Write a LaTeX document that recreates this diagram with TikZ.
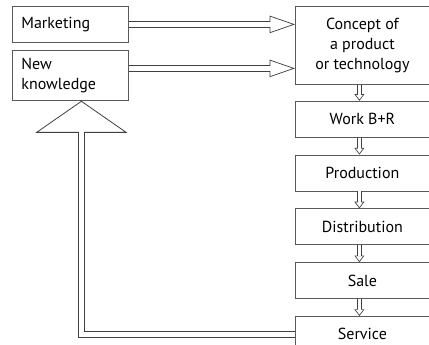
\documentclass[tikz,border=0pt]{standalone}
\usepackage{fontspec}
\setmainfont{PT Sans}
\usetikzlibrary{arrows.meta,positioning}

\begin{document}
\begin{tikzpicture}[
    x=0.75pt, y=-0.75pt,
    node distance=12.75pt,
    every node/.style={font=\fontsize{12}{15}\selectfont},
    leftbox/.style={
        draw=black!65, line width=0.6pt, anchor=north west,
        text width=73.5pt, inner xsep=6.75pt, minimum height=27pt,
        align=left
    },
    stepbox/.style={
        draw=black!65, line width=0.6pt, minimum width=100.5pt,
        minimum height=27pt, inner sep=0pt
    },
    wide/.style={
        double=white, double distance=4pt, line width=0.55pt, draw=black!75,
        -{Triangle[open,length=19pt,width=13pt,line width=0.55pt]}
    },
    thin/.style={
        double=white, double distance=2.6pt, line width=0.5pt, draw=black!75,
        -{Triangle[open,length=5pt,width=7.5pt,line width=0.5pt]}
    },
    back/.style={
        double=white, double distance=4pt, line width=0.6pt, draw=black!75,
        -{Triangle[open,length=24pt,width=69pt,line width=0.6pt]}
    },
    % white core that opens the shaft into the head
    core/.style={draw=white, line width=#1, shorten <=1pt}
]
    \useasboundingbox (0,0) rectangle (429,345);

    % left column
    \node[leftbox] (market) at (12,6) {Marketing};
    \node[leftbox,minimum height=37.5pt] (knowledge) at (12,50) {New\\knowledge};

    % right column
    \node[stepbox,anchor=north west,minimum height=58.5pt,align=center] (concept)
        at (295,6) {Concept of\\a product\\or technology};
    \node[stepbox,below=12pt of concept] (work) {Work B+R};
    \node[stepbox,below=of work] (production) {Production};
    \node[stepbox,below=of production] (distribution) {Distribution};
    \node[stepbox,below=of distribution] (sale) {Sale};
    \node[stepbox,below=of sale] (service) {Service};

    \draw[wide] (market.east) -- (market.east -| concept.west);
    \draw[core=4pt,shorten >=18pt] (market.east) -- (market.east -| concept.west);
    \draw[wide] ([yshift=5.25pt]knowledge.east)
        -- ([yshift=5.25pt]knowledge.east -| concept.west);
    \draw[core=4pt,shorten >=18pt] ([yshift=5.25pt]knowledge.east)
        -- ([yshift=5.25pt]knowledge.east -| concept.west);

    \foreach \a/\b in {concept/work,work/production,production/distribution,
        distribution/sale,sale/service}{
        \draw[thin] ([xshift=-2.25pt]\a.south) -- ([xshift=-2.25pt]\b.north);
        \draw[core=2.6pt,shorten >=4.3pt]
            ([xshift=-2.25pt]\a.south) -- ([xshift=-2.25pt]\b.north);
    }

    \draw[back] (service.west) -| ([xshift=8.25pt]knowledge.south);
    \draw[core=4pt,shorten >=23pt] (service.west) -| ([xshift=8.25pt]knowledge.south);
\end{tikzpicture}
\end{document}
